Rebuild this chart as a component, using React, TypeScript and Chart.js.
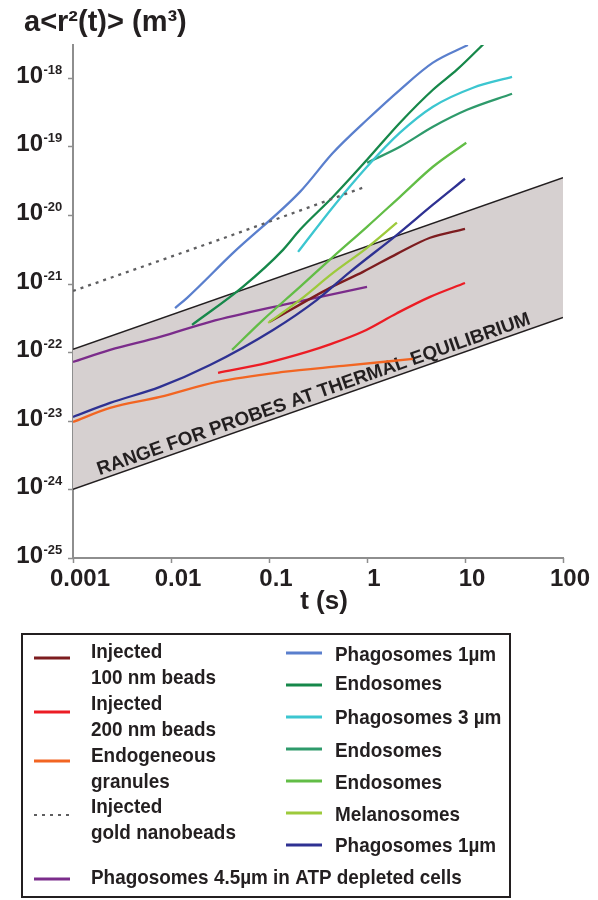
import React, { useEffect, useRef } from 'react';
import { Chart, registerables } from 'chart.js';

Chart.register(...registerables);

// ---- data (t in s, a<r²(t)> in m³) ----
const injected100T = [0.102, 0.419, 0.91, 2.02, 4.4, 10];
const injected100V = [2.77e-22, 8.65e-22, 1.48e-21, 2.71e-21, 4.65e-21, 6.28e-21];

const injected200T = [0.0302, 0.0955, 0.244, 0.419, 0.91, 2.02, 4.4, 10];
const injected200V = [5.0e-23, 7.0e-23, 1.01e-22, 1.3e-22, 2.0e-22, 3.7e-22, 6.4e-22, 1.02e-21];

const endogT = [0.001, 0.00239, 0.00773, 0.0294, 0.139, 0.569, 2.94];
const endogV = [9.6e-24, 1.54e-23, 2.23e-23, 3.69e-23, 5.15e-23, 6.3e-23, 7.98e-23];

const goldT = [0.001, 0.0302, 0.91];
const goldV = [7.8e-22, 4.3e-21, 2.5e-20];

const atpT = [0.001, 0.00239, 0.00773, 0.025, 0.139, 1.0];
const atpV = [7.2e-23, 1.08e-22, 1.67e-22, 2.77e-22, 4.9e-22, 8.95e-22];

const phago1T = [0.011, 0.0146, 0.043, 0.207, 0.45, 1.0, 2.17, 4.71, 10.7];
const phago1V = [4.4e-22, 6.2e-22, 2.8e-21, 2.17e-20, 8.05e-20, 2.44e-19, 6.68e-19, 1.66e-18, 3.0e-18];

const endo1T = [0.0164, 0.054, 0.139, 0.207, 0.45, 1.0, 2.17, 4.71, 8.28, 17.2];
const endo1V = [2.5e-22, 8.95e-22, 3.1e-21, 6.07e-21, 1.84e-20, 6.37e-20, 2.21e-19, 6.68e-19, 1.31e-18, 3.6e-18];

const phago3T = [0.198, 0.45, 1.0, 2.17, 4.71, 12.1, 30.2];
const phago3V = [2.9e-21, 1.31e-20, 5.04e-20, 1.58e-19, 3.78e-19, 7.15e-19, 1.03e-18];

const endo2T = [1.0, 2.17, 4.71, 10.5, 30.2];
const endo2V = [5.75e-20, 9.86e-20, 1.93e-19, 3.41e-19, 5.85e-19];

const endo3T = [0.042, 0.087, 0.207, 0.45, 1.0, 2.17, 4.71, 10.3];
const endo3V = [1.08e-22, 2.96e-22, 8.95e-22, 2.45e-21, 6.71e-21, 1.84e-20, 5.04e-20, 1.13e-19];

const melanoT = [0.098, 0.207, 0.45, 1.0, 2.02];
const melanoV = [2.67e-22, 5.78e-22, 1.43e-21, 3.32e-21, 7.7e-21];

const navyT = [0.001, 0.00239, 0.00773, 0.025, 0.11, 0.309, 0.671, 2.02, 4.71, 10];
const navyV = [1.14e-23, 1.82e-23, 3.12e-23, 6.5e-23, 2.11e-22, 5.8e-22, 1.48e-21, 5.13e-21, 1.41e-20, 3.37e-20];

// thermal-equilibrium band
const bandT = [0.001, 100];
const bandUpper = [1.1e-22, 3.5e-20];
const bandLower = [1.0e-24, 3.2e-22];
const bandText = 'RANGE FOR PROBES AT THERMAL EQUILIBRIUM';

// axes
const xMin = 0.001;
const xMax = 100;
const yMin = 1e-25;
const yMax = 3e-18;
const xTickValues = [0.001, 0.01, 0.1, 1, 10, 100];
const xTickLabels = ['0.001', '0.01', '0.1', '1', '10', '100'];
const yTickExponents = [-25, -24, -23, -22, -21, -20, -19, -18];
const yTitle = 'a<r²(t)> (m³)';
const xTitle = 't (s)';

// legend texts
const legendLeftLabels = [
  ['Injected', '100 nm beads'],
  ['Injected', '200 nm beads'],
  ['Endogeneous', 'granules'],
  ['Injected', 'gold nanobeads'],
];
const legendRightLabels = [
  'Phagosomes 1µm',
  'Endosomes',
  'Phagosomes 3 µm',
  'Endosomes',
  'Endosomes',
  'Melanosomes',
  'Phagosomes 1µm',
];
const legendBottomLabel = 'Phagosomes 4.5µm in ATP depleted cells';

// series table (built from the arrays above)
type Series = { label: string; color: string; t: number[]; v: number[]; dash?: number[]; col: 'L' | 'R' | 'B'; row: number };
const series: Series[] = [
  { label: 'Injected gold nanobeads', color: '#5e5e60', t: goldT, v: goldV, dash: [3, 5], col: 'L', row: 3 },
  { label: legendRightLabels[0], color: '#5a7fcd', t: phago1T, v: phago1V, col: 'R', row: 0 },
  { label: legendRightLabels[1], color: '#16884a', t: endo1T, v: endo1V, col: 'R', row: 1 },
  { label: legendRightLabels[2], color: '#3cc6d0', t: phago3T, v: phago3V, col: 'R', row: 2 },
  { label: legendRightLabels[3], color: '#2e9a6b', t: endo2T, v: endo2V, col: 'R', row: 3 },
  { label: legendRightLabels[4], color: '#62bd46', t: endo3T, v: endo3V, col: 'R', row: 4 },
  { label: legendRightLabels[5], color: '#9dca3c', t: melanoT, v: melanoV, col: 'R', row: 5 },
  { label: legendRightLabels[6], color: '#2e3192', t: navyT, v: navyV, col: 'R', row: 6 },
  { label: 'Injected 100 nm beads', color: '#7d1c1f', t: injected100T, v: injected100V, col: 'L', row: 0 },
  { label: 'Injected 200 nm beads', color: '#ec1c24', t: injected200T, v: injected200V, col: 'L', row: 1 },
  { label: 'Endogeneous granules', color: '#f26522', t: endogT, v: endogV, col: 'L', row: 2 },
  { label: legendBottomLabel, color: '#7b2c8b', t: atpT, v: atpV, col: 'B', row: 0 },
];

// ---- layout constants ----
const FONT = '"Liberation Sans", Arial, Helvetica, sans-serif';
const TEXT = '#231f20';
const AXIS = '#8e8e8e';
const BAND_FILL = '#d6d0d0';

const legendBox = { x: 22, y: 634, w: 488, h: 263 };
const leftLineX = [34, 70];
const rightLineX = [286, 322];
const leftTextX = 91;
const rightTextX = 335;
const leftLineY = [658, 712, 761, 815];
const leftBaseY = [658, 710, 762, 813];
const rightLineY = [653, 685, 717, 749, 781, 813, 845];
const rightBaseY = [661, 690, 724, 757, 789, 821, 852];
const bottomLineY = 879;
const bottomBaseY = 884;
const legendLineGap = 26;

const chromePlugin = {
  id: 'chrome',
  beforeDatasetsDraw(chart: any) {
    const { ctx } = chart;
    const xs = chart.scales.x;
    const ys = chart.scales.y;
    const x0 = xs.getPixelForValue(bandT[0]);
    const y0 = ys.getPixelForValue(bandLower[0]);
    const x1 = xs.getPixelForValue(bandT[1]);
    const y1 = ys.getPixelForValue(bandLower[1]);
    const ang = Math.atan2(y1 - y0, x1 - x0);
    const f = (101 - x0) / (x1 - x0);
    const sx = x0 + f * (x1 - x0);
    const sy = y0 + f * (y1 - y0);
    const off = 4.5;
    const px = sx + Math.sin(ang) * off;
    const py = sy - Math.cos(ang) * off;
    ctx.save();
    ctx.translate(px, py);
    ctx.rotate(ang);
    ctx.font = `bold 19px ${FONT}`;
    ctx.fillStyle = TEXT;
    ctx.textAlign = 'left';
    ctx.textBaseline = 'alphabetic';
    ctx.fillText(bandText, 0, 0);
    ctx.restore();
  },
  afterDraw(chart: any) {
    const { ctx, chartArea } = chart;
    const xs = chart.scales.x;
    const ys = chart.scales.y;
    ctx.save();
    // tick marks
    ctx.strokeStyle = AXIS;
    ctx.lineWidth = 1.5;
    ctx.beginPath();
    yTickExponents.forEach((e) => {
      const py = Math.round(ys.getPixelForValue(Math.pow(10, e))) + 0.5;
      ctx.moveTo(chartArea.left - 5, py);
      ctx.lineTo(chartArea.left, py);
    });
    xTickValues.forEach((v) => {
      const px = Math.round(xs.getPixelForValue(v)) + 0.5;
      ctx.moveTo(px, chartArea.bottom);
      ctx.lineTo(px, chartArea.bottom + 5);
    });
    ctx.stroke();

    ctx.fillStyle = TEXT;
    ctx.textBaseline = 'alphabetic';
    // y tick labels 10^e
    yTickExponents.forEach((e) => {
      const py = ys.getPixelForValue(Math.pow(10, e));
      ctx.font = `bold 24px ${FONT}`;
      ctx.textAlign = 'right';
      ctx.fillText('10', chartArea.left - 30, py + 5);
      ctx.font = `bold 13px ${FONT}`;
      ctx.textAlign = 'left';
      ctx.fillText('-' + Math.abs(e), chartArea.left - 29.5, py - 4);
    });
    // x tick labels
    ctx.font = `bold 24px ${FONT}`;
    ctx.textAlign = 'center';
    xTickValues.forEach((v, i) => {
      ctx.fillText(xTickLabels[i], xs.getPixelForValue(v) + 7, chartArea.bottom + 28);
    });
    // x title
    ctx.font = `bold 26px ${FONT}`;
    ctx.fillText(xTitle, 324, chartArea.bottom + 51);
    // y title
    ctx.font = `bold 29px ${FONT}`;
    ctx.textAlign = 'left';
    ctx.fillText(yTitle, 24, 31);

    // legend
    ctx.lineWidth = 2;
    ctx.strokeStyle = TEXT;
    ctx.strokeRect(legendBox.x, legendBox.y, legendBox.w, legendBox.h);
    const txt = (s: string, x: number, y: number) => {
      ctx.save();
      ctx.translate(x, y);
      ctx.scale(0.9, 1);
      ctx.fillText(s, 0, 0);
      ctx.restore();
    };
    ctx.font = `bold 21px ${FONT}`;
    ctx.textAlign = 'left';
    series.forEach((s) => {
      let lx: number[];
      let ly: number;
      if (s.col === 'L') {
        lx = leftLineX;
        ly = leftLineY[s.row];
      } else if (s.col === 'R') {
        lx = rightLineX;
        ly = rightLineY[s.row];
      } else {
        lx = leftLineX;
        ly = bottomLineY;
      }
      ctx.save();
      ctx.strokeStyle = s.color;
      ctx.lineWidth = s.dash ? 2 : 3;
      ctx.setLineDash(s.dash || []);
      ctx.beginPath();
      ctx.moveTo(lx[0], ly);
      ctx.lineTo(lx[1], ly);
      ctx.stroke();
      ctx.restore();
    });
    ctx.fillStyle = TEXT;
    legendLeftLabels.forEach((lines, i) => {
      lines.forEach((l, j) => txt(l, leftTextX, leftBaseY[i] + j * legendLineGap));
    });
    legendRightLabels.forEach((l, i) => txt(l, rightTextX, rightBaseY[i]));
    txt(legendBottomLabel, leftTextX, bottomBaseY);
    ctx.restore();
  },
};

export default function App() {
  const ref = useRef<HTMLCanvasElement | null>(null);
  useEffect(() => {
    if (!ref.current) return;
    const datasets: any[] = series.map((s) => ({
      label: s.label,
      data: s.t.map((t, i) => ({ x: t, y: s.v[i] })),
      borderColor: s.color,
      backgroundColor: s.color,
      borderWidth: 2.3,
      borderDash: s.dash || [],
      pointRadius: 0,
      fill: false,
      cubicInterpolationMode: 'monotone',
    }));
    datasets.push({
      label: 'band upper',
      data: bandT.map((t, i) => ({ x: t, y: bandUpper[i] })),
      borderColor: TEXT,
      borderWidth: 1.5,
      pointRadius: 0,
      backgroundColor: BAND_FILL,
      fill: '+1',
      tension: 0,
    });
    datasets.push({
      label: 'band lower',
      data: bandT.map((t, i) => ({ x: t, y: bandLower[i] })),
      borderColor: TEXT,
      borderWidth: 1.5,
      pointRadius: 0,
      fill: false,
      tension: 0,
    });
    const chart = new Chart(ref.current, {
      type: 'line',
      data: { datasets },
      options: {
        responsive: false,
        animation: false,
        layout: { padding: { left: 73, right: 35, top: 45, bottom: 342 } },
        plugins: {
          legend: { display: false },
          tooltip: { enabled: false },
          filler: { drawTime: 'beforeDatasetsDraw' },
        } as any,
        scales: {
          x: {
            type: 'logarithmic',
            min: xMin,
            max: xMax,
            ticks: { display: false },
            grid: { display: false, drawTicks: false },
            border: { display: true, color: AXIS, width: 2 },
          },
          y: {
            type: 'logarithmic',
            min: yMin,
            max: yMax,
            ticks: { display: false },
            grid: { display: false, drawTicks: false },
            border: { display: true, color: AXIS, width: 2 },
          },
        },
      } as any,
      plugins: [chromePlugin],
    });
    return () => chart.destroy();
  }, []);
  return (
    <div style={{ position: 'absolute', left: 0, top: 0, width: 598, height: 900, background: '#fff' }}>
      <canvas ref={ref} width={598} height={900} style={{ display: 'block', width: 598, height: 900 }} />
    </div>
  );
}
